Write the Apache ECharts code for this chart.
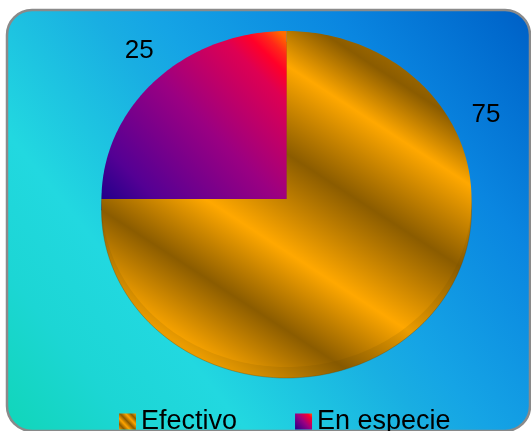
<!DOCTYPE html>
<html>
<head>
<meta charset="utf-8">
<script src="https://cdn.jsdelivr.net/npm/echarts@6/dist/echarts.min.js"></script>
<style>
  html, body { margin: 0; padding: 0; background: #fff; }
  #main { width: 531px; height: 431px; }
</style>
</head>
<body>
<div id="main"></div>
<script>
// datos
const categories = ['Efectivo', 'En especie'];
const values = [75, 25];

const G = echarts.graphic.LinearGradient;
const chart = echarts.init(document.getElementById('main'));

// pastel elíptico con canto (3D)
const PIE = { cx: 286.5, cy: 199, rx: 185, ry: 168, depth: 11 };
const LABEL_ANGLE = [-25, 228]; // grados, 0 = derecha, sentido horario
const LABEL_DIST = 1.19;

// franjas doradas en coordenadas de pantalla
const goldStops = (dark, light, mid) => [
  { offset: 0, color: mid },
  { offset: 0.059, color: dark },
  { offset: 0.186, color: light },
  { offset: 0.386, color: dark },
  { offset: 0.608, color: light },
  { offset: 0.786, color: dark },
  { offset: 0.973, color: light },
  { offset: 1, color: light },
];
const goldFace = new G(92.7, -142.6, -109, 167.8, goldStops('#8b5c00', '#ffa800', '#a06a00'), true);
const goldSide = new G(92.7, -142.6, -109, 167.8, goldStops('#865900', '#eb9c00', '#986500'), true);

const purpleStops = [
  { offset: 0, color: '#22008a' },
  { offset: 0.155, color: '#540094' },
  { offset: 0.5, color: '#9a0082' },
  { offset: 0.8, color: '#de0052' },
  { offset: 0.88, color: '#ff0028' },
  { offset: 0.93, color: '#ff2818' },
  { offset: 0.98, color: '#ff6800' },
  { offset: 1, color: '#ff7000' },
];
const purpleFace = new G(102, 199, 278, 23, purpleStops, true);
const purpleSide = new G(102, 199, 278, 23, purpleStops, true);

const faceFill = [goldFace, purpleFace];
const sideFill = [goldSide, purpleSide];
const iconFill = [
  new G(1, 0, 0, 1, [
    { offset: 0, color: '#ffa500' }, { offset: 0.17, color: '#8b5a00' },
    { offset: 0.33, color: '#ffa500' }, { offset: 0.5, color: '#8b5a00' },
    { offset: 0.67, color: '#ffa500' }, { offset: 0.83, color: '#8b5a00' },
    { offset: 1, color: '#ffa500' },
  ]),
  new G(0, 1, 1, 0, [
    { offset: 0, color: '#22008a' }, { offset: 0.5, color: '#9a0082' },
    { offset: 0.85, color: '#ff0028' }, { offset: 1, color: '#ff6000' },
  ]),
];

function slicePoints(a0, a1, dy) {
  const pts = [[PIE.cx, PIE.cy + dy]];
  const n = Math.max(2, Math.ceil((a1 - a0) / (Math.PI / 180)));
  for (let i = 0; i <= n; i++) {
    const a = a0 + (a1 - a0) * i / n;
    pts.push([PIE.cx + PIE.rx * Math.cos(a), PIE.cy + dy + PIE.ry * Math.sin(a)]);
  }
  return pts;
}

const total = values.reduce((s, v) => s + v, 0);
let acc = 0;
const series = categories.map((name, i) => {
  const a0 = -Math.PI / 2 + acc / total * Math.PI * 2;
  acc += values[i];
  const a1 = -Math.PI / 2 + acc / total * Math.PI * 2;
  const la = LABEL_ANGLE[i] * Math.PI / 180;
  return {
    type: 'custom',
    name: name,
    coordinateSystem: 'none',
    itemStyle: { color: iconFill[i] },
    data: [values[i]],
    renderItem: (params, api) => ({
      type: 'group',
      children: [
        {
          type: 'polygon', z2: 1,
          shape: { points: slicePoints(a0, a1, PIE.depth) },
          style: { fill: sideFill[i], stroke: 'rgba(110,70,0,0.35)', lineWidth: 1 },
        },
        { type: 'polygon', z2: 10, shape: { points: slicePoints(a0, a1, 0) }, style: { fill: faceFill[i] } },
        {
          type: 'text', z2: 20,
          x: PIE.cx + LABEL_DIST * PIE.rx * Math.cos(la),
          y: PIE.cy + LABEL_DIST * PIE.ry * Math.sin(la),
          style: {
            text: String(api.value(0)),
            fill: '#000',
            font: '26px "Liberation Sans", Arial, sans-serif',
            align: 'center',
            verticalAlign: 'middle',
          },
        },
      ],
    }),
  };
});

const option = {
  animation: false,
  graphic: [
    {
      type: 'rect',
      z: -1,
      silent: true,
      shape: { x: 7, y: 10, width: 523, height: 421, r: 25 },
      style: {
        fill: new G(0, 1, 1, 0, [
          { offset: 0, color: '#10d6b8' },
          { offset: 0.15, color: '#1cd6d4' },
          { offset: 0.28, color: '#22d8e0' },
          { offset: 0.49, color: '#19aee2' },
          { offset: 0.56, color: '#15a4e5' },
          { offset: 0.77, color: '#0a86e0' },
          { offset: 0.95, color: '#0068cc' },
          { offset: 1, color: '#005ec4' },
        ]),
        stroke: '#8a8a8a',
        lineWidth: 2.5,
      },
    },
  ],
  legend: {
    data: categories,
    left: 114,
    top: 403,
    icon: 'rect',
    itemWidth: 17,
    itemHeight: 16,
    itemGap: 58,
    textStyle: {
      fontSize: 27,
      color: '#000',
      fontFamily: '"Liberation Sans", Arial, sans-serif',
    },
  },
  series: series,
};
chart.setOption(option);
</script>
</body>
</html>
